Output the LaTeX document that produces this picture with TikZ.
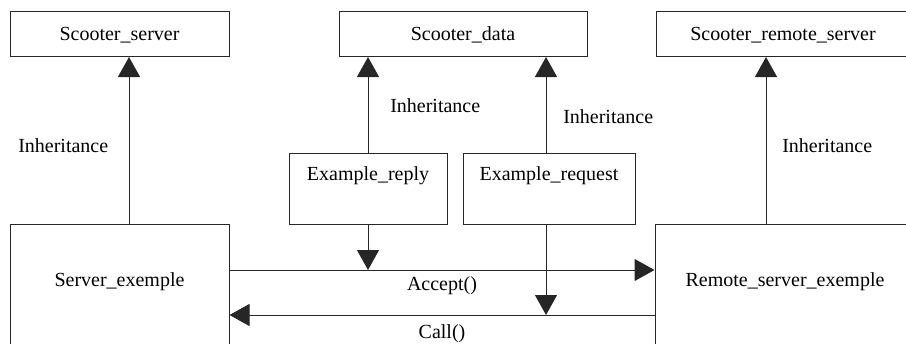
\documentclass[tikz,border=0pt]{standalone}
\usepackage{fontspec}
\setmainfont{LiberationSerif}[Extension=.ttf, UprightFont=*-Regular, BoldFont=*-Bold, ItalicFont=*-Italic]
\usetikzlibrary{arrows.meta, positioning}

\begin{document}
\begin{tikzpicture}[
    x=0.75pt, y=-0.75pt,
    every node/.style={font=\rmfamily\fontsize{15}{18}\selectfont},
    cls/.style={rectangle, draw=black!85, line width=0.75pt, anchor=north, inner xsep=0pt, inner ysep=0pt, minimum width=#1},
    smallcls/.style={cls=#1, text height=21.75pt, text depth=12pt},
    midcls/.style={cls=#1, text height=20.25pt, text depth=33pt},
    bigcls/.style={cls=#1, text height=46.5pt, text depth=150pt},
    lbl/.style={inner sep=0pt, anchor=base west},
    inh/.style={draw=black!85, line width=0.75pt, -{Triangle[length=15pt, width=16.5pt]}},
    msg/.style={draw=black!85, line width=0.75pt, -{Triangle[length=15pt, width=16.5pt]}}
]
\useasboundingbox (0,0) rectangle (906,343);
\clip (0,0) rectangle (906,343);

% Top row: base classes
\node[smallcls=164.25pt] (sserver) at (119.5,11) {Scooter\_server};
\node[smallcls=186pt] (sdata) at (463,11) {Scooter\_data};
\node[smallcls=190.5pt] (sremote) at (783,11) {Scooter\_remote\_server};

% Middle row: messages
\node[midcls=118.5pt] (ereply) at (368,153) {Example\_reply};
\node[midcls=129pt] (erequest) at (549,153) {Example\_request};

% Bottom row: servers
\node[bigcls=164.25pt] (sexemple) at (119.5,224) {Server\_exemple};
\node[bigcls=195pt] (rexemple) at (785,224) {Remote\_server\_exemple};

\coordinate (acc) at (0,270);
\coordinate (cll) at (0,315);

% Inheritance
\draw[inh] ([xshift=7.125pt]sexemple.north) -- ([xshift=7.125pt]sexemple.north |- sserver.south);
\draw[inh] (ereply.north) -- (ereply.north |- sdata.south);
\draw[inh] ([xshift=-2.25pt]erequest.north) -- ([xshift=-2.25pt]erequest.north |- sdata.south);
\draw[inh] ([xshift=-14.25pt]rexemple.north) -- ([xshift=-14.25pt]rexemple.north |- sremote.south);

\node[lbl] (inhsrv) at (18,152) {Inheritance};
\node[lbl] (inhrep) at (390,112) {Inheritance};
\node[lbl] (inhreq) at (563,123) {Inheritance};
\node[lbl] (inhrem) at (782,152) {Inheritance};

% Calls
\draw[msg] (sexemple.east |- acc) -- node[anchor=base, yshift=-15pt] (acclbl) {Accept()} (rexemple.west |- acc);
\draw[msg] (rexemple.west |- cll) -- node[anchor=base, yshift=-17.25pt] (calllbl) {Call()} (sexemple.east |- cll);
\draw[msg] (ereply.south) -- (ereply.south |- acc);
\draw[msg] ([xshift=-2.25pt]erequest.south) -- ([xshift=-2.25pt]erequest.south |- cll);

\end{tikzpicture}
\end{document}
